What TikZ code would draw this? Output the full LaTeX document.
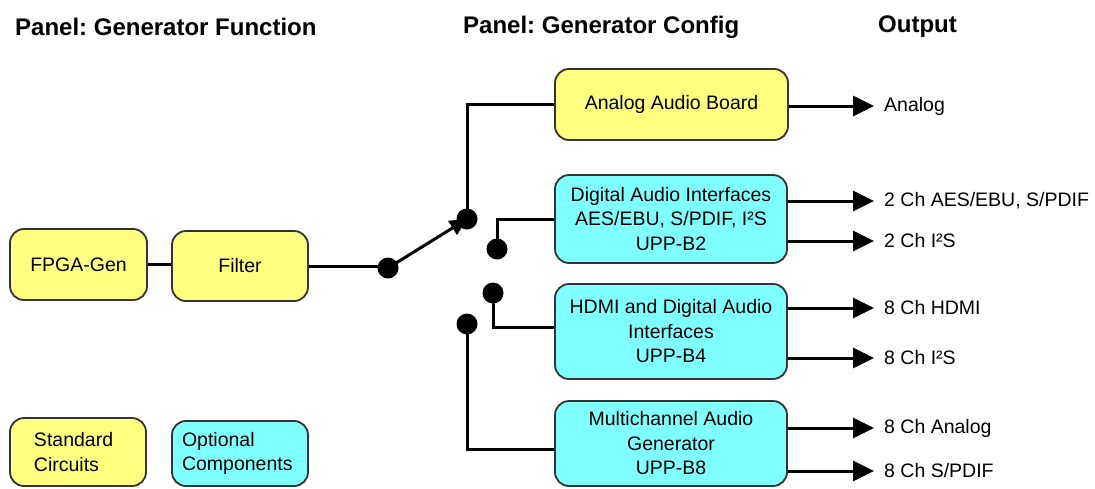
\documentclass[tikz,border=0pt]{standalone}
\usepackage{fontspec}
\setmainfont{Liberation Sans}
\frenchspacing
\usetikzlibrary{arrows.meta,calc}
\definecolor{stdyellow}{HTML}{FFFF80}
\definecolor{optcyan}{HTML}{80FFFF}
\definecolor{boxedge}{HTML}{333333}
\begin{document}
\begin{tikzpicture}[x=1pt,y=-1pt,
  box/.style={draw=boxedge,line width=1.8pt,rounded corners=14pt,align=center,
    font=\fontsize{19.5}{24.5}\selectfont,inner sep=0pt},
  stdbox/.style={box,fill=stdyellow},
  optbox/.style={box,fill=optcyan},
  title/.style={font=\fontsize{24}{28}\selectfont\bfseries,anchor=west,inner sep=0pt},
  outlab/.style={font=\fontsize{19.5}{24}\selectfont,anchor=west,inner sep=0pt},
  dot/.style={circle,fill=black,minimum size=21pt,inner sep=0pt},
  wire/.style={line width=3pt},
  outarrow/.style={line width=3pt,-{Triangle[length=21pt,width=20pt]}},
  swarrow/.style={line width=3pt,-{Triangle[length=17pt,width=16pt]}}]
\useasboundingbox (0,0) rectangle (1095,488);

% titles
\node[title] (t1) at (15,27) {Panel: Generator Function};
\node[title] (t2) at (463,27) {Panel: Generator Config};
\node[title] (t3) at (878,27) {Output};

% boxes
\node[stdbox,minimum width=137pt,minimum height=71pt] (fpga) at (78.5,264.5) {FPGA-Gen};
\node[stdbox,minimum width=136pt,minimum height=70pt] (filter) at (240,266) {Filter};
\node[stdbox,minimum width=233pt,minimum height=71pt] (analog) at (671.5,104.5) {Analog Audio Board};
\node[optbox,minimum width=232pt,minimum height=88pt] (digital) at (671,219) {Digital Audio Interfaces\\AES/EBU, S/PDIF, I²S\\UPP-B2};
\node[optbox,minimum width=232pt,minimum height=95pt] (hdmi) at (671,331.5) {HDMI and Digital Audio\\Interfaces\\UPP-B4};
\node[optbox,minimum width=232pt,minimum height=85pt] (multi) at (671,443.5) {Multichannel Audio\\Generator\\UPP-B8};

% legend
\node[stdbox,minimum width=136pt,minimum height=68pt,align=left,text width=88pt] (std) at (78,452) {Standard\\Circuits};
\node[optbox,minimum width=136pt,minimum height=65pt,align=left,text width=116pt] (opt) at (240,453.5) {Optional\\Components};

% switch dots
\node[dot] (s0) at (388,268) {};
\node[dot] (s1) at (467,219) {};
\node[dot] (s2) at (497,249) {};
\node[dot] (s3) at (493,293) {};
\node[dot] (s4) at (467,324) {};

% wires
\draw[wire] (fpga.east) -- (fpga.east -| filter.west);
\draw[wire] (filter.east) -- (filter.east -| s0);
\draw[swarrow] (s0.center) -- (s1.center);
\draw[wire] (s1.center) |- (analog.west);
\draw[wire] (s2.center) |- (digital.west);
\draw[wire] (s3.center) |- ([yshift=4pt]hdmi.west);
\draw[wire] (s4.center) |- ([yshift=-6pt]multi.west);

% output labels
\node[outlab] (o1) at (884,106) {Analog};
\node[outlab] (o2) at (884,201) {2 Ch AES/EBU, S/PDIF};
\node[outlab] (o3) at (884,241) {2 Ch I²S};
\node[outlab] (o4) at (884,308) {8 Ch HDMI};
\node[outlab] (o5) at (884,358) {8 Ch I²S};
\node[outlab] (o6) at (884,428) {8 Ch Analog};
\node[outlab] (o7) at (884,471) {8 Ch S/PDIF};

\draw[outarrow] (analog.east |- o1.west) -- ([xshift=-10pt]o1.west);
\draw[outarrow] (digital.east |- o2.west) -- ([xshift=-10pt]o2.west);
\draw[outarrow] (digital.east |- o3.west) -- ([xshift=-10pt]o3.west);
\draw[outarrow] (hdmi.east |- o4.west) -- ([xshift=-10pt]o4.west);
\draw[outarrow] (hdmi.east |- o5.west) -- ([xshift=-10pt]o5.west);
\draw[outarrow] (multi.east |- o6.west) -- ([xshift=-10pt]o6.west);
\draw[outarrow] (multi.east |- o7.west) -- ([xshift=-10pt]o7.west);
\end{tikzpicture}
\end{document}
